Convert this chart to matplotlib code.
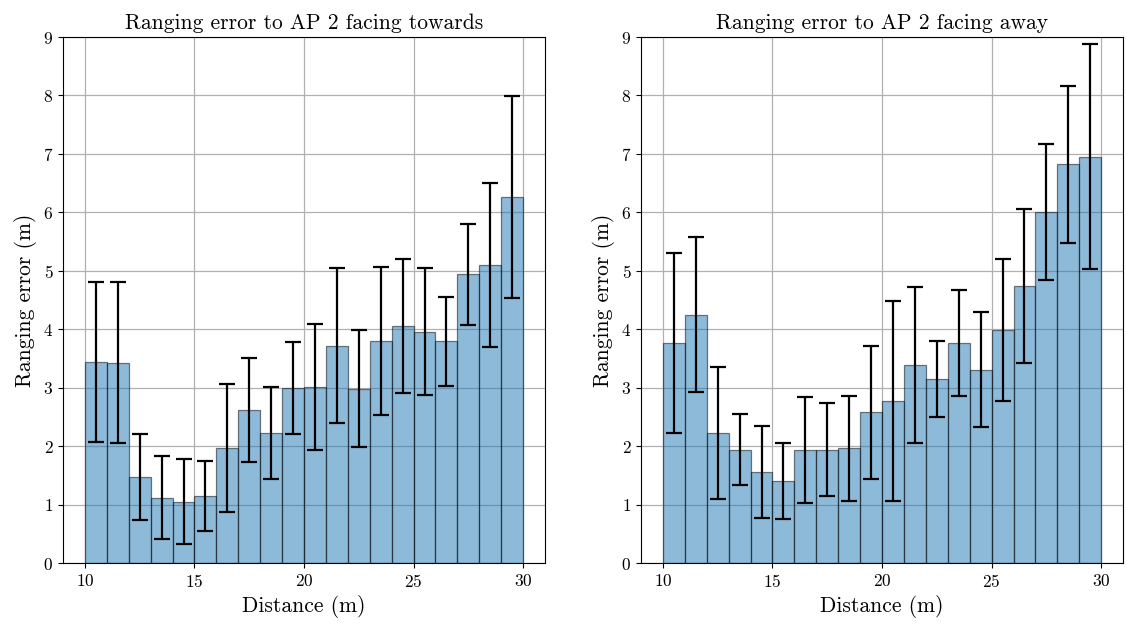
import numpy as np
import matplotlib
matplotlib.use('Agg')
import matplotlib.pyplot as plt

plt.rcParams['font.family'] = 'serif'
plt.rcParams['font.serif'] = ['cmr10']
plt.rcParams['mathtext.fontset'] = 'cm'
plt.rcParams['axes.formatter.use_mathtext'] = True

# distance bins (left edges, width 1 m)
bins = np.arange(10, 30)

# AP 2 facing towards
towards_mean = [3.44, 3.43, 1.47, 1.12, 1.05, 1.14, 1.97, 2.62, 2.22, 2.99,
                3.01, 3.72, 2.98, 3.80, 4.05, 3.96, 3.79, 4.94, 5.10, 6.26]
towards_std = [1.375, 1.38, 0.73, 0.71, 0.725, 0.60, 1.10, 0.89, 0.785, 0.785,
               1.085, 1.33, 1.00, 1.27, 1.145, 1.08, 0.755, 0.86, 1.40, 1.725]

# AP 2 facing away
away_mean = [3.77, 4.25, 2.23, 1.94, 1.56, 1.40, 1.93, 1.94, 1.96, 2.58,
             2.77, 3.39, 3.15, 3.76, 3.31, 3.99, 4.74, 6.01, 6.82, 6.95]
away_std = [1.54, 1.33, 1.13, 0.605, 0.79, 0.65, 0.91, 0.79, 0.90, 1.14,
            1.715, 1.34, 0.645, 0.91, 0.98, 1.22, 1.32, 1.16, 1.34, 1.925]

titles = ['Ranging error to AP 2 facing towards', 'Ranging error to AP 2 facing away']

fig = plt.figure(figsize=(11.27, 6.25), dpi=100)
ax1 = fig.add_axes([0.0559, 0.0992, 0.4277, 0.8416])
ax2 = fig.add_axes([0.5688, 0.0992, 0.4277, 0.8416])

for ax, mean, std, title in zip([ax1, ax2], [towards_mean, away_mean],
                                [towards_std, away_std], titles):
    ax.grid(True, color='#b0b0b0', linewidth=0.9)
    ax.set_axisbelow(True)
    ax.bar(bins + 0.5, mean, width=1.0, color='C0', alpha=0.5,
           edgecolor='black', linewidth=0.9)
    ax.errorbar(bins + 0.5, mean, yerr=std, fmt='none', ecolor='black',
                elinewidth=1.6, capsize=6, capthick=1.6)
    ax.set_xlim(9, 31)
    ax.set_ylim(0, 9)
    ax.set_xticks([10, 15, 20, 25, 30])
    ax.set_yticks(range(10))
    ax.tick_params(labelsize=12.5)
    ax.set_title(title, fontsize=15.5)
    ax.set_xlabel('Distance (m)', fontsize=15.5)
    ax.set_ylabel('Ranging error (m)', fontsize=15.5)

fig.savefig('out.png', dpi=100)
